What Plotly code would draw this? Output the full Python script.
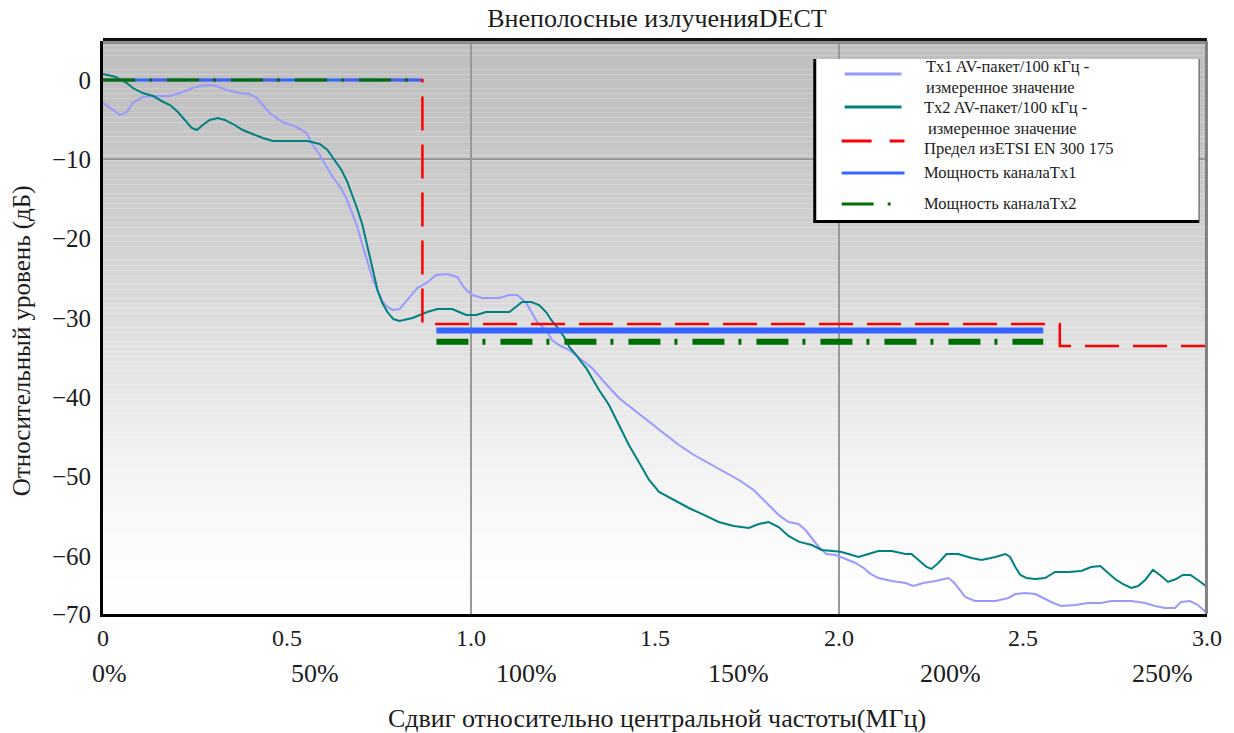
import plotly.graph_objects as go

# Measured out-of-band emission traces (offset from carrier in MHz, relative level in dB)
TX1_FREQ = [0.000, 0.019, 0.046, 0.065, 0.081, 0.108, 0.141, 0.182, 0.217, 0.244, 0.263, 0.290,
            0.309, 0.336, 0.372, 0.399, 0.418, 0.434, 0.453, 0.488, 0.526, 0.553, 0.570, 0.589,
            0.608, 0.624, 0.643, 0.662, 0.678, 0.692, 0.705, 0.719, 0.732, 0.746, 0.759, 0.773,
            0.787, 0.806, 0.833, 0.854, 0.879, 0.906, 0.936, 0.963, 0.982, 1.004, 1.031, 1.077,
            1.104, 1.126, 1.150, 1.166, 1.180, 1.204, 1.220, 1.239, 1.267, 1.294, 1.329, 1.362,
            1.402, 1.443, 1.484, 1.524, 1.565, 1.606, 1.646, 1.687, 1.728, 1.768, 1.809, 1.836,
            1.863, 1.890, 1.909, 1.926, 1.945, 1.966, 1.991, 2.018, 2.045, 2.067, 2.086, 2.107,
            2.143, 2.181, 2.202, 2.229, 2.262, 2.297, 2.311, 2.324, 2.343, 2.370, 2.425, 2.460,
            2.479, 2.506, 2.533, 2.555, 2.582, 2.604, 2.642, 2.677, 2.712, 2.739, 2.794, 2.832,
            2.859, 2.886, 2.913, 2.929, 2.954, 2.975, 2.997]
TX1_LEVEL = [-2.86, -3.53, -4.41, -4.04, -2.90, -2.14, -2.02, -2.02, -1.51, -1.01, -0.76, -0.63,
             -0.76, -1.26, -1.64, -1.77, -2.27, -3.15, -4.16, -5.30, -5.93, -6.68, -8.20, -9.46,
             -10.97, -12.23, -13.37, -15.01, -16.90, -18.66, -20.81, -22.95, -24.97, -26.61, -27.87, -28.63,
             -29.00, -28.88, -27.33, -26.23, -25.60, -24.59, -24.46, -24.84, -26.23, -27.11, -27.49, -27.49,
             -27.11, -27.11, -28.12, -29.38, -30.52, -31.53, -32.79, -33.42, -34.05, -35.06, -36.32, -38.08,
             -40.10, -41.61, -43.13, -44.51, -46.03, -47.29, -48.30, -49.43, -50.44, -51.70, -53.59, -54.85,
             -55.74, -55.99, -56.75, -57.76, -58.89, -59.77, -59.90, -60.40, -60.91, -61.54, -62.30, -62.80,
             -63.18, -63.43, -63.81, -63.43, -63.18, -62.80, -63.30, -64.06, -65.20, -65.70, -65.70, -65.32,
             -64.82, -64.69, -64.82, -65.32, -65.95, -66.33, -66.20, -65.95, -65.95, -65.70, -65.70, -65.95,
             -66.33, -66.58, -66.58, -65.83, -65.70, -66.20, -67.09]

TX2_FREQ = [0.000, 0.033, 0.065, 0.081, 0.108, 0.136, 0.163, 0.182, 0.203, 0.222, 0.241, 0.255,
            0.271, 0.290, 0.312, 0.331, 0.353, 0.380, 0.407, 0.434, 0.461, 0.499, 0.556, 0.589,
            0.610, 0.629, 0.648, 0.664, 0.678, 0.692, 0.705, 0.716, 0.727, 0.738, 0.746, 0.759,
            0.773, 0.789, 0.806, 0.841, 0.860, 0.881, 0.909, 0.949, 0.968, 0.987, 1.014, 1.041,
            1.104, 1.117, 1.139, 1.164, 1.185, 1.204, 1.218, 1.234, 1.253, 1.267, 1.286, 1.302,
            1.313, 1.348, 1.375, 1.402, 1.429, 1.456, 1.484, 1.511, 1.551, 1.592, 1.633, 1.673,
            1.714, 1.755, 1.782, 1.809, 1.836, 1.863, 1.890, 1.926, 1.953, 1.980, 2.004, 2.026,
            2.053, 2.080, 2.107, 2.143, 2.181, 2.197, 2.221, 2.238, 2.251, 2.270, 2.292, 2.324,
            2.360, 2.387, 2.425, 2.452, 2.465, 2.479, 2.493, 2.509, 2.533, 2.560, 2.587, 2.623,
            2.658, 2.685, 2.710, 2.731, 2.750, 2.772, 2.794, 2.813, 2.832, 2.853, 2.872, 2.894,
            2.916, 2.934, 2.955, 2.975, 2.997]
TX2_LEVEL = [0.76, 0.42, -0.38, -1.01, -1.64, -2.02, -2.74, -3.15, -4.00, -5.04, -6.05, -6.31,
             -5.67, -5.04, -4.79, -5.04, -5.55, -6.31, -6.81, -7.31, -7.69, -7.69, -7.69, -8.07,
             -8.83, -10.09, -11.35, -12.86, -14.50, -16.39, -18.28, -20.43, -22.70, -24.72, -26.48, -28.12,
             -29.26, -30.14, -30.39, -30.01, -29.63, -29.26, -28.88, -28.88, -29.26, -29.63, -29.63, -29.26,
             -29.26, -28.75, -27.99, -27.99, -28.37, -29.26, -30.26, -31.15, -32.41, -33.67, -34.68, -35.69,
             -36.32, -39.09, -40.98, -43.51, -46.03, -48.17, -50.44, -51.95, -52.96, -53.97, -54.85, -55.74,
             -56.24, -56.49, -55.99, -55.74, -56.37, -57.50, -58.22, -58.64, -59.27, -59.40, -59.48, -59.77,
             -60.15, -59.77, -59.40, -59.40, -59.77, -59.77, -60.78, -61.41, -61.66, -60.91, -59.77, -59.77,
             -60.28, -60.53, -60.15, -59.77, -60.15, -61.41, -62.42, -62.80, -62.93, -62.80, -62.04, -62.04,
             -61.92, -61.41, -61.29, -62.17, -62.93, -63.56, -64.06, -63.81, -63.05, -61.79, -62.42, -63.30,
             -62.93, -62.42, -62.42, -63.05, -63.81]

# ETSI EN 300 175 limit mask (stepped)
LIMIT_FREQ = [0.0, 0.868, 0.868, 2.6, 2.6, 3.0]
LIMIT_LEVEL = [0.0, 0.0, -30.77, -30.77, -33.54, -33.54]

# Channel power: in-band reference and adjacent-channel level
CH_INBAND_FREQ = [0.0, 0.864]
CH_ADJ_FREQ = [0.906, 2.555]
TX1_CH_POWER = [0.0, -31.6]
TX2_CH_POWER = [0.0, -33.0]

# Axis ticks
X_TICKS = [0, 0.5, 1.0, 1.5, 2.0, 2.5, 3.0]
X_TICK_TEXT = ["0", "0.5", "1.0", "1.5", "2.0", "2.5", "3.0"]
PCT_TICKS = [0, 50, 100, 150, 200, 250]
PCT_REF_MHZ = 1.152  # 100 % offset in MHz
Y_TICKS = [0, -10, -20, -30, -40, -50, -60]
Y_FLOOR_LABEL = "\u221270"

Y_RANGE = [-67.34, 4.92]
X_RANGE = [0, 3.0]

FONT = "Liberation Serif, Times New Roman, serif"
TEXT = "#1c1c1c"
C_TX1 = "#9999ff"
C_TX2 = "#008080"
C_LIMIT = "#ff0000"
C_CH1 = "#3366ff"
C_CH2 = "#007000"

fig = go.Figure()

fig.add_trace(go.Scatter(x=TX1_FREQ, y=TX1_LEVEL, mode="lines",
                         line=dict(color=C_TX1, width=2), hoverinfo="skip"))
fig.add_trace(go.Scatter(x=TX2_FREQ, y=TX2_LEVEL, mode="lines",
                         line=dict(color=C_TX2, width=2), hoverinfo="skip"))
fig.add_trace(go.Scatter(x=LIMIT_FREQ, y=LIMIT_LEVEL, mode="lines",
                         line=dict(color=C_LIMIT, width=2.5, dash="34px,14px"), hoverinfo="skip"))
fig.add_trace(go.Scatter(x=CH_INBAND_FREQ, y=[TX1_CH_POWER[0]] * 2, mode="lines",
                         line=dict(color=C_CH1, width=3), hoverinfo="skip"))
fig.add_trace(go.Scatter(x=CH_ADJ_FREQ, y=[TX1_CH_POWER[1]] * 2, mode="lines",
                         line=dict(color=C_CH1, width=6), hoverinfo="skip"))
fig.add_trace(go.Scatter(x=CH_INBAND_FREQ, y=[TX2_CH_POWER[0]] * 2, mode="lines",
                         line=dict(color=C_CH2, width=3, dash="32px,14px,3px,15px"), hoverinfo="skip"))
fig.add_trace(go.Scatter(x=CH_ADJ_FREQ, y=[TX2_CH_POWER[1]] * 2, mode="lines",
                         line=dict(color=C_CH2, width=6, dash="32px,14px,3px,15px"), hoverinfo="skip"))

shapes = []

# Vertical grey gradient behind the plot area
grad = [(0.0, 192), (0.10, 193), (0.38, 212), (0.58, 229), (0.77, 245), (0.92, 253), (1.0, 255)]


def grey_at(t):
    for (t0, g0), (t1, g1) in zip(grad[:-1], grad[1:]):
        if t0 <= t <= t1:
            return g0 + (g1 - g0) * (t - t0) / (t1 - t0)
    return grad[-1][1]


N_BANDS = 120
for i in range(N_BANDS):
    top = 1 - i / N_BANDS
    bot = 1 - (i + 1) / N_BANDS
    g = int(round(grey_at((i + 0.5) / N_BANDS)))
    shapes.append(dict(type="rect", xref="paper", yref="paper", x0=0, x1=1, y0=bot, y1=top,
                       fillcolor=f"rgb({g},{g},{g})", line=dict(width=0), layer="below"))

# Frame: dark strip and grey edge at the top, grey right edge
shapes.append(dict(type="line", xref="paper", yref="paper", x0=0, x1=1, y0=1.0026, y1=1.0026,
                   line=dict(color="#111111", width=3)))
shapes.append(dict(type="line", xref="paper", yref="paper", x0=0, x1=1, y0=0.9974, y1=0.9974,
                   line=dict(color="#8c8c8c", width=3)))
shapes.append(dict(type="line", xref="paper", yref="paper", x0=0.9995, x1=0.9995, y0=0, y1=1,
                   line=dict(color="#808080", width=3)))

# Legend box
LB = dict(x0=0.6438, x1=0.9928, y0=0.6824, y1=0.9686)
shapes.append(dict(type="rect", xref="paper", yref="paper", **LB,
                   fillcolor="white", line=dict(width=0)))
shapes.append(dict(type="line", xref="paper", yref="paper", x0=0.6447, x1=0.6447,
                   y0=LB["y0"], y1=LB["y1"], line=dict(color="black", width=3)))
shapes.append(dict(type="line", xref="paper", yref="paper", x0=LB["x0"], x1=LB["x1"],
                   y0=0.6850, y1=0.6850, line=dict(color="black", width=3)))
shapes.append(dict(type="line", xref="paper", yref="paper", x0=LB["x1"], x1=LB["x1"],
                   y0=LB["y0"], y1=LB["y1"], line=dict(color="#444444", width=1)))

legend_samples = [
    (0.6718, 0.7233, 0.9424, C_TX1, "solid"),
    (0.6718, 0.7233, 0.8848, C_TX2, "solid"),
    (0.6691, 0.7260, 0.8255, C_LIMIT, "30px,18px"),
    (0.6691, 0.7260, 0.7696, C_CH1, "solid"),
    (0.6691, 0.7260, 0.7155, C_CH2, "32px,14px,3px,15px"),
]
for x0, x1, y, col, dash in legend_samples:
    shapes.append(dict(type="line", xref="paper", yref="paper", x0=x0, x1=x1, y0=y, y1=y,
                       line=dict(color=col, width=3, dash=dash)))


def py(pix):
    """Vertical pixel row inside the page -> paper fraction."""
    return (614 - pix) / 573


annotations = []
legend_text = [
    (0.7450, py(66.5), "Tx1 AV-пакет/100 кГц -"),
    (0.7450, py(87), "измеренное значение"),
    (0.7432, py(107.5), "Tx2 AV-пакет/100 кГц -"),
    (0.7468, py(128), "измеренное значение"),
    (0.7432, py(148.5), "Предел изETSI EN 300 175"),
    (0.7432, py(172), "Мощность каналаTx1"),
    (0.7432, py(204), "Мощность каналаTx2"),
]
for x, y, t in legend_text:
    annotations.append(dict(xref="paper", yref="paper", x=x, y=y, text=t, showarrow=False,
                            xanchor="left", yanchor="middle", borderpad=0,
                            font=dict(family=FONT, size=16.5, color=TEXT)))

# Second row of x labels: offset as a percentage of the reference bandwidth
for p in PCT_TICKS:
    annotations.append(dict(xref="x", yref="paper", x=p / 100 * PCT_REF_MHZ, y=py(673),
                            text=f"{p}%", showarrow=False, xanchor="center", yanchor="middle",
                            xshift=6 if p == 0 else 0,
                            font=dict(family=FONT, size=26, color=TEXT)))

annotations.append(dict(xref="paper", yref="paper", x=(22 - 103) / 1106, y=py(341),
                        text="Относительный уровень (дБ)", textangle=-90, showarrow=False,
                        xanchor="center", yanchor="middle",
                        font=dict(family=FONT, size=25, color=TEXT)))
annotations.append(dict(xref="paper", yref="paper", x=(658 - 103) / 1106, y=py(718),
                        text="Сдвиг относительно центральной частоты(МГц)", showarrow=False,
                        xanchor="center", yanchor="middle",
                        font=dict(family=FONT, size=26, color=TEXT)))

y_tickvals = Y_TICKS + [Y_RANGE[0]]
y_ticktext = [str(v).replace("-", "\u2212") for v in Y_TICKS] + [Y_FLOOR_LABEL]

fig.update_layout(
    width=1234, height=733,
    margin=dict(l=103, r=25, t=41, b=119),
    paper_bgcolor="white", plot_bgcolor="white",
    showlegend=False,
    title=dict(text="Внеполосные излученияDECT", x=(658 - 103) / 1106, xref="paper",
               xanchor="center", y=1 - 18 / 733, yref="container", yanchor="middle",
               font=dict(family=FONT, size=26, color=TEXT)),
    xaxis=dict(range=X_RANGE, tickvals=X_TICKS, ticktext=X_TICK_TEXT, showgrid=False,
               zeroline=False, showline=True, linecolor="black", linewidth=3, ticks="",
               tickfont=dict(family=FONT, size=24, color=TEXT),
               minor=dict(tickvals=[1.0, 2.0], showgrid=True, gridcolor="#999999", gridwidth=2,
                          ticks="")),
    yaxis=dict(range=Y_RANGE, tickvals=y_tickvals, ticktext=y_ticktext, showgrid=False,
               zeroline=False, showline=True, linecolor="black", linewidth=3, ticks="",
               ticklabelstandoff=4,
               tickfont=dict(family=FONT, size=25, color=TEXT),
               minor=dict(tickvals=[-10], showgrid=True, gridcolor="#999999", gridwidth=2,
                          ticks="")),
    shapes=shapes,
    annotations=annotations,
)

fig.write_html("out.html")
